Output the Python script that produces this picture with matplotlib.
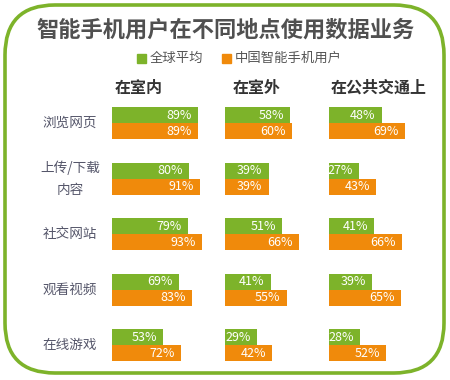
import matplotlib
matplotlib.use('Agg')
import matplotlib.pyplot as plt
from matplotlib.patches import FancyBboxPatch, Rectangle

plt.rcParams['font.family'] = ['Noto Sans CJK SC', 'DejaVu Sans']

# data
title = '智能手机用户在不同地点使用数据业务'
series_names = ['全球平均', '中国智能手机用户']
locations = ['在室内', '在室外', '在公共交通上']
activities = ['浏览网页', '上传/下载\n内容', '社交网站', '观看视频', '在线游戏']
global_avg = [[89, 80, 79, 69, 53],
              [58, 39, 51, 41, 29],
              [48, 27, 41, 39, 28]]
china = [[89, 91, 93, 83, 72],
         [60, 39, 66, 55, 42],
         [69, 43, 66, 65, 52]]

GREEN = '#7db32a'
ORANGE = '#f08a0b'

W, H = 450, 380
fig = plt.figure(figsize=(W / 100, H / 100), dpi=100)

# background axes in pixel units (y downwards)
bg = fig.add_axes([0, 0, 1, 1])
bg.set_xlim(0, W)
bg.set_ylim(H, 0)
bg.axis('off')

frame = FancyBboxPatch((5, 5), 439, 368, boxstyle='round,pad=0,rounding_size=50',
                       fill=False, edgecolor=GREEN, linewidth=2.6)
bg.add_patch(frame)

bg.text(225, 30, title, ha='center', va='center', fontsize=16,
        fontweight='bold', color='#505050')

# legend
for (x, name, col) in [(137, series_names[0], GREEN), (222, series_names[1], ORANGE)]:
    bg.add_patch(Rectangle((x, 53.5), 9, 9, color=col))
    bg.text(x + 13, 58, name, ha='left', va='center', fontsize=9.6, color='#555555')

# layout of the panels (pixels)
col_left = [112, 225, 329]
col_scale = [0.965, 1.12, 1.10]      # px per percent
header_x = [115, 233, 331]
row0, row_gap = 123, 55.5
bar_h = 16
top_px, bot_px = 100, 370

for i, act in enumerate(activities):
    y = row0 + i * row_gap
    bg.text(70, y, act, ha='center', va='center', fontsize=9.8,
            color='#55566a', linespacing=1.75)

for c, loc in enumerate(locations):
    bg.text(header_x[c], 88, loc, ha='left', va='center', fontsize=11.5,
            fontweight='bold', color='#333333')

    width_px = 100 * col_scale[c]
    ax = fig.add_axes([col_left[c] / W, 1 - bot_px / H, width_px / W, (bot_px - top_px) / H])
    ax.set_xlim(0, 100)
    ax.set_ylim((bot_px - row0) / row_gap, -(row0 - top_px) / row_gap)
    ax.axis('off')
    ax.patch.set_alpha(0)

    hb = bar_h / row_gap
    ys = list(range(len(activities)))
    b1 = ax.barh([y - hb / 2 for y in ys], global_avg[c], height=hb, color=GREEN, linewidth=0)
    b2 = ax.barh([y + hb / 2 for y in ys], china[c], height=hb, color=ORANGE, linewidth=0)
    for bars, vals in [(b1, global_avg[c]), (b2, china[c])]:
        for rect, v in zip(bars, vals):
            ax.annotate('%d%%' % v, (rect.get_width(), rect.get_y() + rect.get_height() / 2),
                        xytext=(-4.5, 0), textcoords='offset points', ha='right', va='center',
                        fontsize=9, color='white')

fig.savefig('out.png', dpi=100)
